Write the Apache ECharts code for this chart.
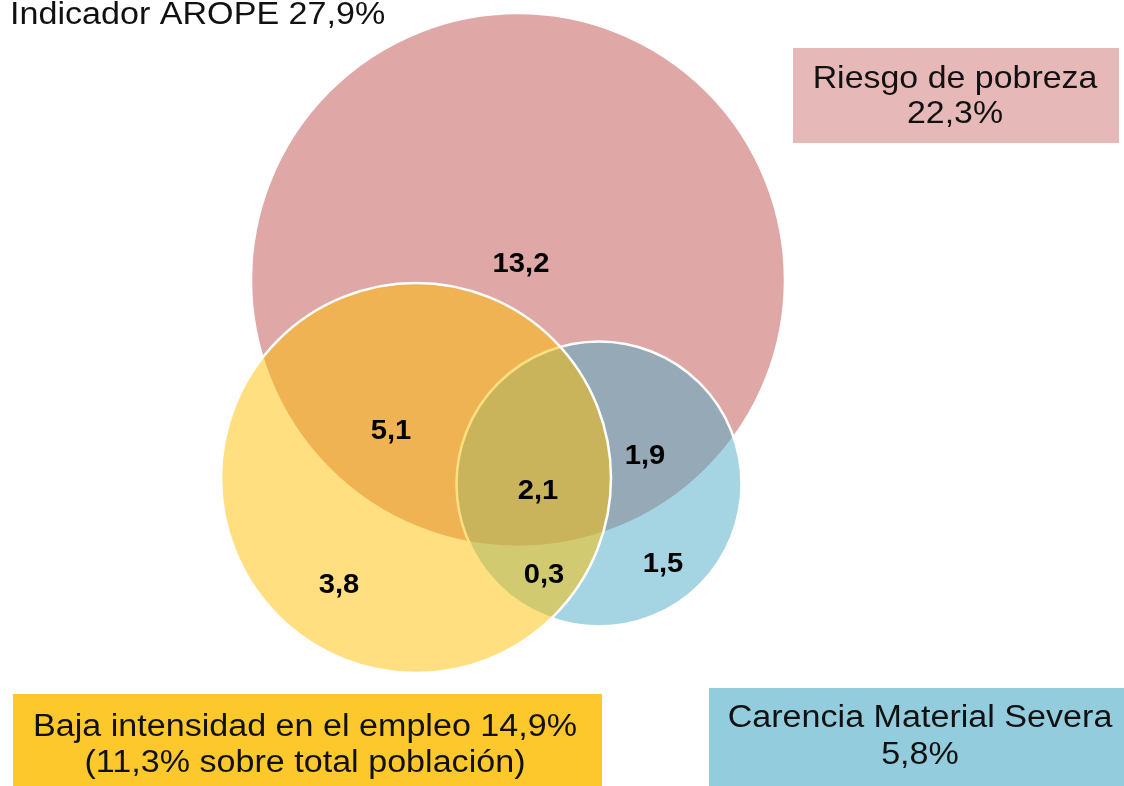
<!DOCTYPE html>
<html>
<head>
<meta charset="utf-8">
<script src="https://cdn.jsdelivr.net/npm/echarts@6/dist/echarts.min.js"></script>
<style>
  html, body { margin: 0; padding: 0; background: #fff; }
  #chart { width: 1124px; height: 786px; }
</style>
</head>
<body>
<div id="chart"></div>
<script>
// circles, in drawing order: red, blue, yellow
var circleNames = ['Riesgo de pobreza', 'Carencia Material Severa', 'Baja intensidad en el empleo'];
var circleX = [518, 599, 416];
var circleY = [280, 484, 478];
var circleR = [267, 142.5, 195];
var circleColors = ['rgba(192,80,77,0.5)', 'rgba(75,172,198,0.5)', 'rgba(255,192,0,0.5)'];

// values of each region of the diagram
var regionValues = [13.2, 5.1, 2.1, 1.9, 0.3, 1.5, 3.8];
var regionX = [521, 391, 538, 645, 544, 663, 339];
var regionY = [265, 432, 492, 457, 576, 565, 586];

var titleText = 'Indicador AROPE 27,9%';
var boxLines = [
  ['Riesgo de pobreza', '22,3%'],
  ['Baja intensidad en el empleo 14,9%', '(11,3% sobre total población)'],
  ['Carencia Material Severa', '5,8%']
];
var boxColors = ['#e6b9b8', '#fdc82c', '#93cddd'];

var font = '"Liberation Sans", Arial, sans-serif';
var chart = echarts.init(document.getElementById('chart'));

function fmt(v) {
  return v.toFixed(1).replace('.', ',');
}

function boxText(text, x, y, size, sx) {
  return {
    type: 'text', x: x, y: y, scaleX: sx, silent: true,
    style: {
      text: text, fill: '#111', font: size + 'px ' + font,
      textAlign: 'center', textVerticalAlign: 'middle'
    }
  };
}

var option = {
  animation: false,
  backgroundColor: '#fff',
  grid: { left: 0, right: 0, top: 0, bottom: 0 },
  xAxis: { type: 'value', min: 0, max: 1124, show: false },
  yAxis: { type: 'value', min: 0, max: 786, inverse: true, show: false },
  series: [
    {
      type: 'custom',
      name: 'circles',
      silent: true,
      data: circleX.map(function (x, i) { return [x, circleY[i], circleR[i]]; }),
      renderItem: function (params, api) {
        var c = api.coord([api.value(0), api.value(1)]);
        var r = api.size([api.value(2), 0])[0];
        return {
          type: 'circle',
          shape: { cx: c[0], cy: c[1], r: r },
          style: { fill: circleColors[params.dataIndex], stroke: '#fff', lineWidth: 2.5 }
        };
      }
    },
    {
      type: 'custom',
      name: 'regions',
      silent: true,
      z: 5,
      data: regionX.map(function (x, i) { return [x, regionY[i], regionValues[i]]; }),
      renderItem: function (params, api) {
        var c = api.coord([api.value(0), api.value(1)]);
        return {
          type: 'text',
          x: c[0], y: c[1], scaleX: 1.08,
          style: {
            text: fmt(api.value(2)), fill: '#000',
            font: 'bold 27px ' + font,
            textAlign: 'center', textVerticalAlign: 'middle'
          }
        };
      }
    }
  ],
  graphic: [
    { type: 'rect', shape: { x: 793, y: 48, width: 326, height: 95 }, style: { fill: boxColors[0] }, silent: true },
    { type: 'rect', shape: { x: 13, y: 694, width: 589, height: 92 }, style: { fill: boxColors[1] }, silent: true },
    { type: 'rect', shape: { x: 709, y: 688, width: 415, height: 98 }, style: { fill: boxColors[2] }, silent: true },
    {
      type: 'text', x: 10, y: 15, scaleX: 1.1, silent: true,
      style: { text: titleText, fill: '#111', font: '31px ' + font, textAlign: 'left', textVerticalAlign: 'middle' }
    },
    boxText(boxLines[0][0], 955, 79, 32, 1.06),
    boxText(boxLines[0][1], 955, 114, 32, 1.06),
    boxText(boxLines[1][0], 305, 727, 31, 1.1),
    boxText(boxLines[1][1], 305, 763, 31, 1.1),
    boxText(boxLines[2][0], 920, 718, 31, 1.1),
    boxText(boxLines[2][1], 920, 755, 31, 1.1)
  ]
};

chart.setOption(option);
</script>
</body>
</html>
